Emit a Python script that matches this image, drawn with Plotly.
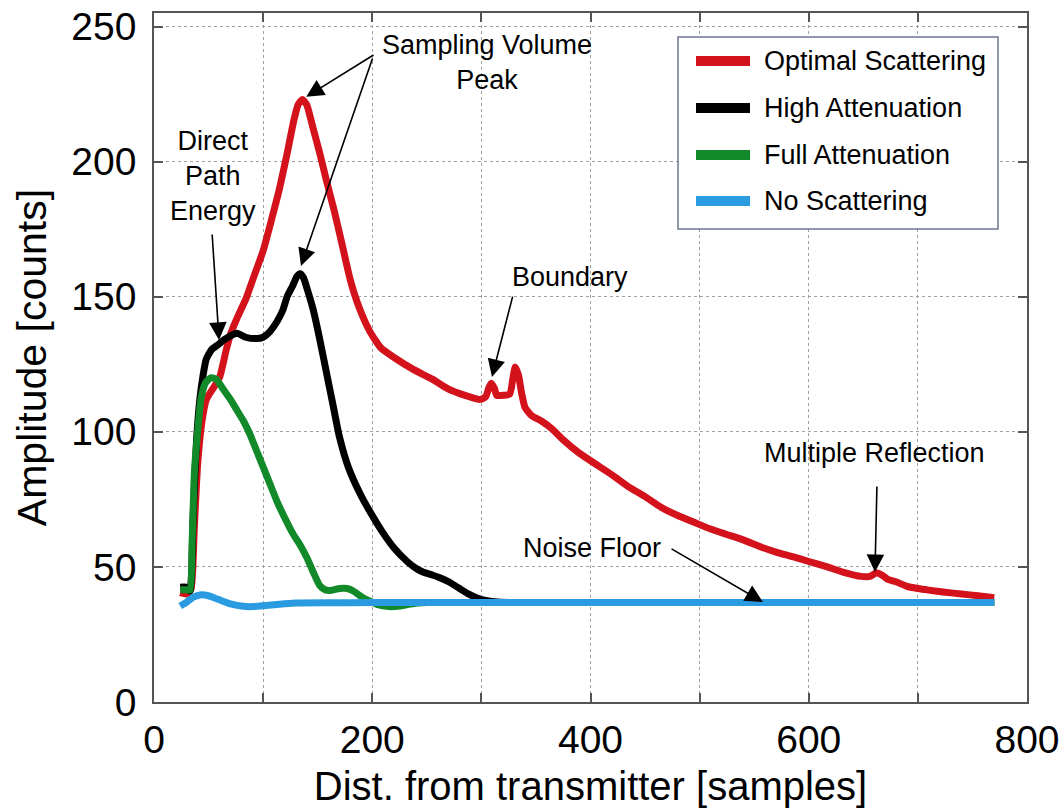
import plotly.graph_objects as go

# ---------------- data ----------------
red_x = [24, 30, 34, 37, 40, 44, 48, 54, 60, 66, 70, 76, 84, 92, 100, 108, 115, 122, 128, 132,
         136, 140, 146, 152, 158, 165, 172, 180, 188, 198, 208, 220, 238, 255, 269, 285, 299,
         304, 307, 309, 312, 314, 320, 326, 329, 331, 334, 337, 340, 346, 355, 365, 375, 390,
         405, 420, 435, 450, 465, 480, 495, 510, 525, 540, 556, 570, 586, 600, 617, 632, 648,
         656, 662, 667, 672, 680, 690, 700, 710, 725, 740, 755, 770]
red_y = [40.5, 40, 42, 65, 88, 104, 112, 116, 120, 130, 136, 142, 149, 158, 167, 179, 190, 203,
         215, 221, 223, 221, 212, 203, 193, 182, 170, 156, 146, 137, 131, 127.5, 123, 119.5,
         116, 113.5, 112, 113, 116.5, 118, 116, 113.5, 113.5, 114, 120, 124, 121, 114, 109,
         106, 104, 101, 97, 92, 88, 84, 79.6, 76, 72, 69, 66.5, 64, 62, 60, 57.4, 55.5, 53.7,
         52, 50, 48, 46.5, 46.5, 47.8, 47, 45.5, 44.5, 42.8, 42, 41.4, 40.6, 40, 39.3, 38.6]

black_x = [24, 30, 33, 36, 39, 42, 45, 48, 53, 58, 64, 70, 76, 84, 94, 100, 106, 113, 118,
           122, 127, 131, 134, 137, 141, 146, 152, 158, 164, 170, 178, 189, 200, 210, 220, 232,
           240, 247, 255, 262, 270, 280, 288, 296, 305, 315, 330, 400, 500, 600, 700, 770]
black_y = [42.5, 42.5, 41, 70, 97, 112, 121, 127, 130.5, 132, 134, 135.5, 136.5, 135, 134.5,
           135, 137, 141, 145, 150, 154, 157.5, 158.5, 157, 152, 145, 134, 122, 110, 98, 87,
           77, 69, 62.5, 57, 52, 49.5, 48, 47, 46, 44.5, 42, 40, 38.5, 37.5, 37, 36.8, 36.8,
           36.8, 36.8, 36.8, 36.8]

green_x = [24, 30, 33, 35, 37, 40, 43, 47, 52, 57, 63, 70, 76, 82, 88, 94, 100, 107, 113, 120,
           127, 134, 140, 146, 152, 157, 162, 170, 177, 183, 190, 197, 205, 215, 225, 235, 250,
           300, 400, 500, 600, 700, 770]
green_y = [41.5, 41.5, 41.5, 60, 85, 100, 112, 118, 120, 119.5, 116, 112, 108, 104, 99, 93, 87,
           80, 74, 68, 62.5, 58, 53.5, 48, 43, 41.5, 41.3, 42, 42, 41, 39, 37.5, 36, 35.3, 35.5,
           36.3, 36.8, 36.8, 36.8, 36.8, 36.8, 36.8, 36.8]

blue_x = [24, 30, 36, 42, 48, 55, 62, 70, 80, 90, 100, 115, 130, 160, 200, 300, 400, 500, 600,
          700, 770]
blue_y = [35.5, 37, 38.8, 39.6, 39.5, 38.6, 37.5, 36.3, 35.5, 35.3, 35.6, 36.2, 36.6, 36.7,
          36.8, 36.8, 36.8, 36.8, 36.8, 36.8, 36.8]

series_names = ["Optimal Scattering", "High Attenuation", "Full Attenuation", "No Scattering"]
series_colors = ["#D3121C", "#000000", "#138A2A", "#2A9BE0"]

x_tickvals = [0, 100, 200, 300, 400, 500, 600, 700, 800]
x_ticktext = ["0", "", "200", "", "400", "", "600", "", "800"]
y_tickvals = [0, 50, 100, 150, 200, 250]
y_ticktext = ["0", "50", "100", "150", "200", "250"]

# annotation texts: (text, x, y)
labels = [
    ("Sampling Volume<br>Peak", 304.7, 236.5),
    ("Direct<br>Path<br>Energy", 54, 194.7),
    ("Boundary", 381, 157.3),
    ("Multiple Reflection", 660.7, 92.2),
    ("Noise Floor", 401.4, 57),
]
# arrows: (tail_x, tail_y, tip_x, tip_y)
arrows = [
    (202.5, 239.8, 139.5, 224.0),
    (200.7, 238.7, 134.7, 161.4),
    (53.2, 173.6, 59.6, 134.0),
    (329.0, 150.6, 309.7, 120.3),
    (662.5, 80.3, 660.7, 48.1),
    (472.9, 57.0, 558.0, 37.0),
]

FONT = "Liberation Sans, Arial, Helvetica, sans-serif"

fig = go.Figure()
for xs, ys, name, col in zip([red_x, black_x, green_x, blue_x],
                             [red_y, black_y, green_y, blue_y],
                             series_names, series_colors):
    fig.add_trace(go.Scatter(x=xs, y=ys, mode="lines", name=name,
                             line=dict(color=col, width=7, shape="spline", smoothing=0.5),
                             showlegend=False))

axis_common = dict(showline=True, linecolor="#555555", linewidth=1.5, mirror="ticks",
                   ticks="inside", ticklen=9, tickwidth=1.5, tickcolor="#555555",
                   showgrid=True, gridcolor="#a0a0a0", griddash="dot", gridwidth=1,
                   zeroline=False, automargin=False,
                   tickfont=dict(size=39, color="black", family=FONT))

fig.update_layout(
    width=1064, height=808,
    margin=dict(l=154, r=37, t=13, b=106, autoexpand=False),
    paper_bgcolor="white", plot_bgcolor="white",
    font=dict(family=FONT, color="black"),
    xaxis=dict(range=[0, 800], tickmode="array", tickvals=x_tickvals, ticktext=x_ticktext,
               title=dict(text="Dist. from transmitter [samples]", font=dict(size=40), standoff=22),
               ticklabelstandoff=2, **axis_common),
    yaxis=dict(range=[0, 255], tickmode="array", tickvals=y_tickvals, ticktext=y_ticktext,
               title=dict(text="Amplitude [counts]", font=dict(size=41), standoff=12),
               ticklabelstandoff=8, **axis_common),
)

# text labels
for t, x, y in labels:
    fig.add_annotation(x=x, y=y, xref="x", yref="y", text=t, showarrow=False,
                       font=dict(size=27, color="black", family=FONT), align="center")
# arrows
for tx, ty, hx, hy in arrows:
    fig.add_annotation(x=hx, y=hy, ax=tx, ay=ty, xref="x", yref="y", axref="x", ayref="y",
                       text="", showarrow=True, arrowhead=2, arrowsize=2.2, arrowwidth=1.6,
                       arrowcolor="black", standoff=0)

# legend (drawn box)
px0, px1 = 154, 1027
py0, py1 = 702, 13
def pxx(p):
    return (p - px0) / (px1 - px0)
def pyy(p):
    return (py0 - p) / (py0 - py1)

fig.add_shape(type="rect", xref="paper", yref="paper", x0=pxx(678), x1=pxx(998),
              y0=pyy(229), y1=pyy(37), line=dict(color="#6E7591", width=1.5),
              fillcolor="white", layer="above")
legend_rows = [61, 108, 155, 201]
for row, name, col in zip(legend_rows, series_names, series_colors):
    fig.add_shape(type="line", xref="paper", yref="paper", x0=pxx(696), x1=pxx(750),
                  y0=pyy(row), y1=pyy(row), line=dict(color=col, width=10), layer="above")
    fig.add_annotation(x=pxx(762), y=pyy(row), xref="paper", yref="paper", text=name,
                       showarrow=False, xanchor="left", yanchor="middle",
                       font=dict(size=27, color="black", family=FONT))

fig.write_html("out.html")
